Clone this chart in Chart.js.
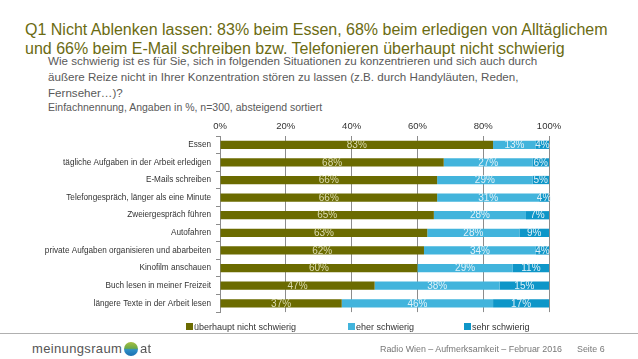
<!DOCTYPE html>
<html><head><meta charset="utf-8">
<script src="https://cdn.jsdelivr.net/npm/chart.js@4"></script>
<style>
body{margin:0;width:638px;height:359px;background:#fff;position:relative;overflow:hidden;font-family:"Liberation Sans",Arial,sans-serif;}
.abs{position:absolute;white-space:nowrap;}
.t{left:25px;font-size:16px;line-height:20px;color:#6b6b12;}
.s{left:48px;font-size:11.6px;line-height:16px;color:#595959;}
#note{left:48px;top:100px;font-size:10.5px;line-height:14px;color:#595959;}
#wrap{position:absolute;left:0;top:112px;width:638px;height:210px;}
.leg{position:absolute;top:321px;font-size:9px;line-height:12px;color:#333;}
.sw{display:inline-block;width:7px;height:7px;margin-right:1px;vertical-align:0px;}
#hr{position:absolute;left:0;top:333px;width:638px;height:1px;background:#b0b0b0;}
#foot{left:380px;top:343px;font-size:8.9px;line-height:12px;color:#777;}
#seite{left:577px;top:343px;font-size:8.9px;line-height:12px;color:#777;}
#logo{left:32px;top:341px;font-size:13px;line-height:16px;color:#555;letter-spacing:0.35px;}
#globe{position:absolute;left:124px;top:342px;width:14px;height:14px;border-radius:50%;background:linear-gradient(180deg,#a8c040 0%,#6aa84a 45%,#2e8fc8 55%,#1a6fb0 100%);}
#at{left:140px;top:341px;font-size:13px;line-height:16px;color:#555;letter-spacing:0.3px;}
</style></head><body>
<div class="abs t" style="top:20px">Q1 Nicht Ablenken lassen: 83% beim Essen, 68% beim erledigen von Alltäglichem</div>
<div class="abs t" style="top:39px">und 66% beim E-Mail schreiben bzw. Telefonieren überhaupt nicht schwierig</div>
<div class="abs s" style="top:53px">Wie schwierig ist es für Sie, sich in folgenden Situationen zu konzentrieren und sich auch durch</div>
<div class="abs s" style="top:69px">äußere Reize nicht in Ihrer Konzentration stören zu lassen (z.B. durch Handyläuten, Reden,</div>
<div class="abs s" style="top:85px">Fernseher…)?</div>
<div id="note" class="abs">Einfachnennung, Angaben in %, n=300, absteigend sortiert</div>
<div id="wrap"><canvas id="c"></canvas></div>
<div class="leg" style="left:186px"><span class="sw" style="background:#6b6b00"></span>überhaupt nicht schwierig</div>
<div class="leg" style="left:348px"><span class="sw" style="background:#42b4dc"></span>eher schwierig</div>
<div class="leg" style="left:464px"><span class="sw" style="background:#0e96c8"></span>sehr schwierig</div>
<div id="hr"></div>
<div id="logo" class="abs">meinungsraum</div>
<div id="globe"></div>
<div id="at" class="abs">at</div>
<div id="foot" class="abs">Radio Wien – Aufmerksamkeit – Februar 2016</div>
<div id="seite" class="abs">Seite 6</div>
<script>
const categories = ["Essen","tägliche Aufgaben in der Arbeit erledigen","E-Mails schreiben","Telefongespräch, länger als eine Minute","Zweiergespräch führen","Autofahren","private Aufgaben organisieren und abarbeiten","Kinofilm anschauen","Buch lesen in meiner Freizeit","längere Texte in der Arbeit lesen"];
const seriesNames = ["überhaupt nicht schwierig","eher schwierig","sehr schwierig"];
const nichtSchwierig = [83,68,66,66,65,63,62,60,47,37];
const eherSchwierig = [13,27,29,31,28,28,34,29,38,46];
const sehrSchwierig = [4,6,5,4,7,9,4,11,15,17];
const xTicks = [0,20,40,60,80,100];
const colors = ["#6b6b00","#42b4dc","#0e96c8"];

const labelPlugin = {
  id:'segLabels',
  afterDatasetsDraw(chart){
    const ctx = chart.ctx; const area = chart.chartArea;
    ctx.save();
    ctx.font = '10px "Liberation Sans", Arial, sans-serif';
    ctx.textAlign='center'; ctx.textBaseline='middle';
    chart.data.datasets.forEach((ds,di)=>{
      const meta = chart.getDatasetMeta(di);
      meta.data.forEach((bar,i)=>{
        const l = Math.min(bar.base,bar.x), r = Math.min(Math.max(bar.base,bar.x), area.right);
        ctx.fillStyle = di===0 ? '#dcdcb0' : 'rgba(232,244,250,0.95)';
        ctx.fillText(ds.data[i]+'%', (l+r)/2, bar.y+0.5);
      });
    });
    ctx.restore();
  }
};

new Chart(document.getElementById('c'),{
  type:'bar',
  data:{labels:categories,datasets:[
    {label:seriesNames[0],data:nichtSchwierig,backgroundColor:colors[0]},
    {label:seriesNames[1],data:eherSchwierig,backgroundColor:colors[1]},
    {label:seriesNames[2],data:sehrSchwierig,backgroundColor:colors[2]}
  ]},
  options:{
    indexAxis:'y',responsive:true,maintainAspectRatio:false,animation:false,
    categoryPercentage:1,barPercentage:0.47,
    layout:{padding:{left:0,right:89,top:0,bottom:0}},
    plugins:{legend:{display:false},tooltip:{enabled:false}},
    scales:{
      x:{position:'top',stacked:true,min:0,max:100,
        afterBuildTicks(s){s.ticks = xTicks.map(v=>({value:v}));},
        afterFit(s){s.height=24;},
        ticks:{callback:v=>v+'%',font:{size:9.5,family:'"Liberation Sans", Arial'},color:'#333',padding:4},
        grid:{color:'#8c8c8c',lineWidth:1,drawTicks:false},
        border:{display:false}},
      y:{stacked:true,
        afterFit(s){s.width=220;},
        ticks:{font:{size:8.2,family:'"Liberation Sans", Arial'},color:'#333',padding:5},
        grid:{offset:true,drawOnChartArea:false,tickLength:4,color:'#8c8c8c'},
        border:{display:true,color:'#8c8c8c'}}
    }
  },
  plugins:[labelPlugin]
});
</script>
</body></html>
